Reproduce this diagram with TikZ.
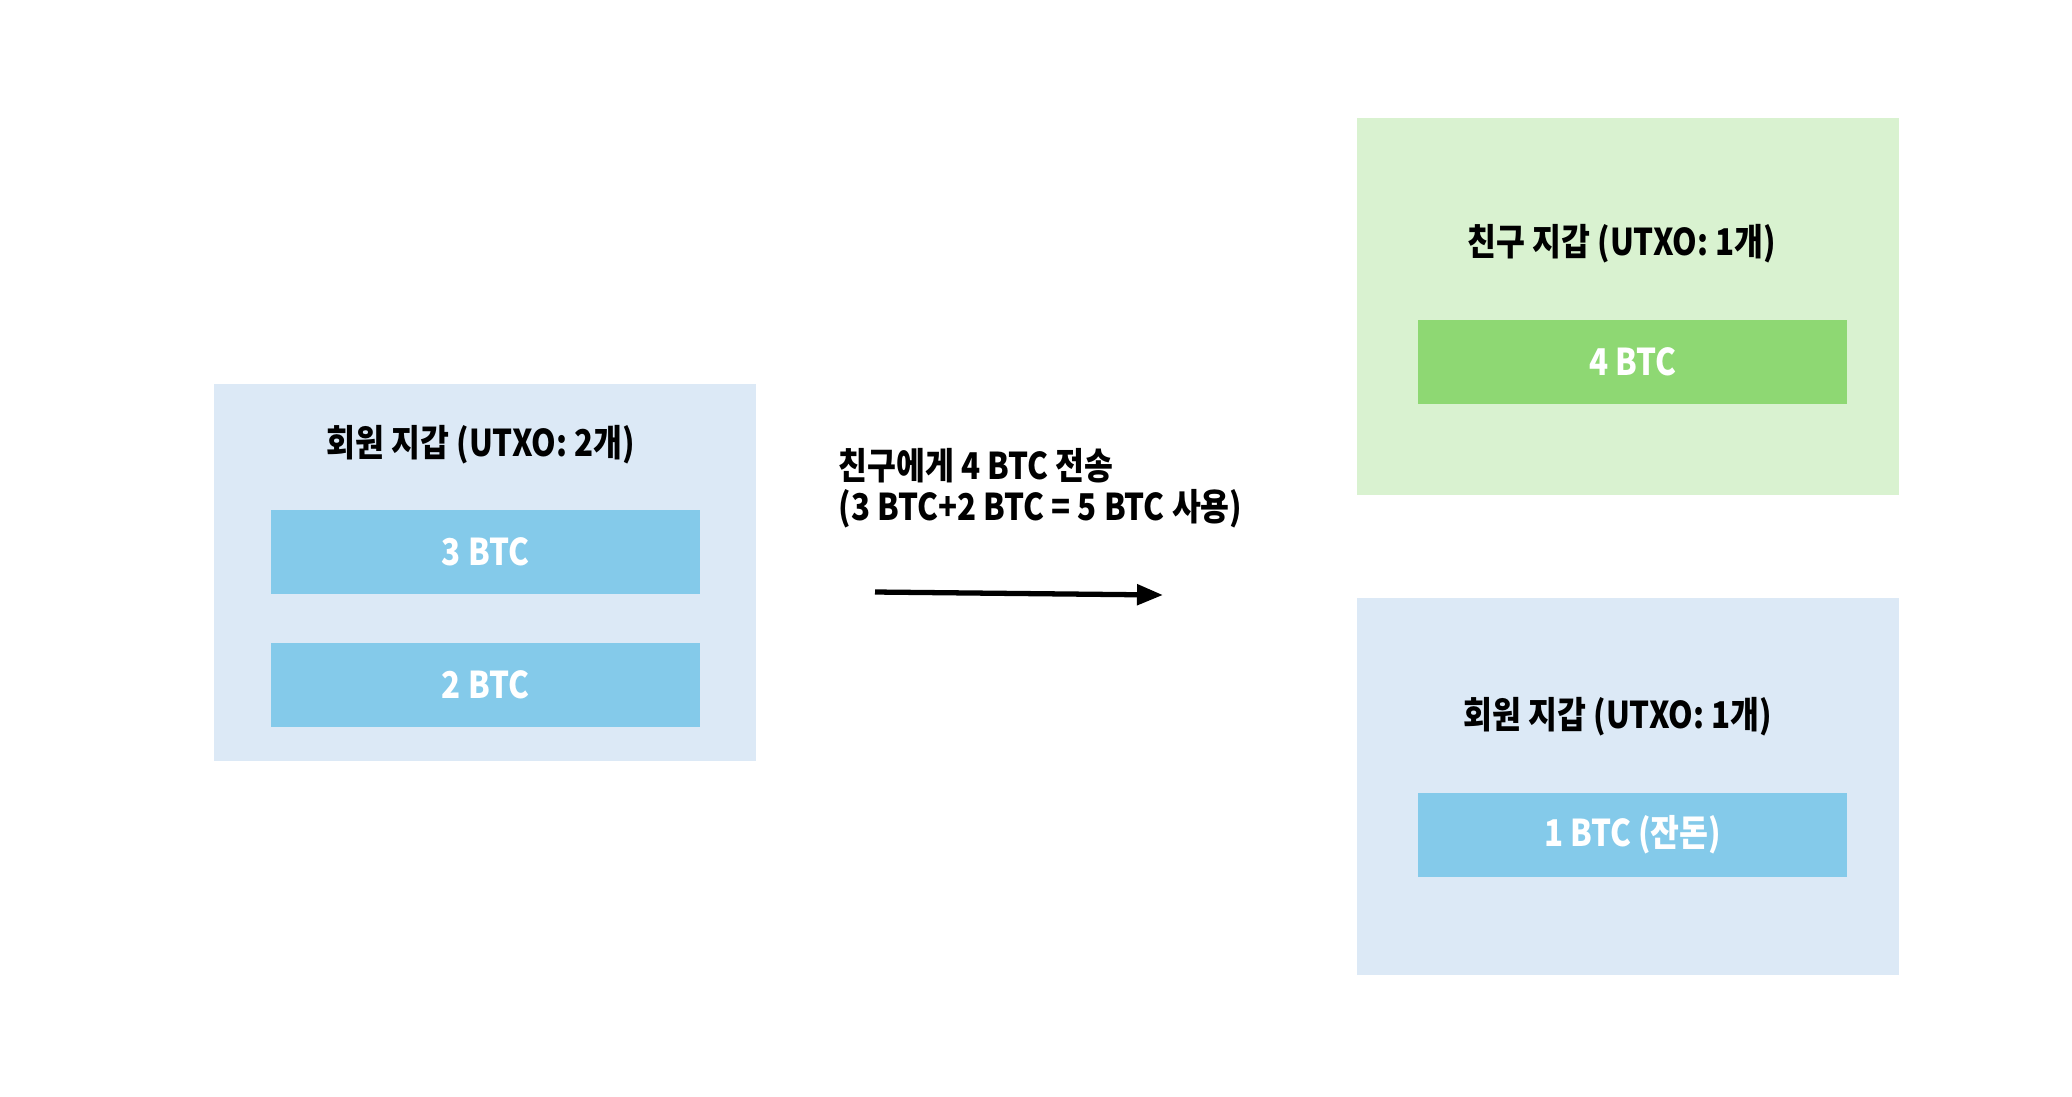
\documentclass[tikz,border=0pt]{standalone}
\usepackage{fontspec}
\setmainfont{Noto Sans CJK KR}[FakeStretch=0.85]
\usepackage{xcolor}
\usetikzlibrary{positioning, arrows.meta}

\definecolor{walletblue}{HTML}{DCE9F6}
\definecolor{coinblue}{HTML}{84CAEA}
\definecolor{walletgreen}{HTML}{D9F2D0}
\definecolor{coingreen}{HTML}{8ED873}

\begin{document}
\begin{tikzpicture}[
    font = \fontsize{10.5}{11.5}\selectfont\bfseries,
    wallet/.style = {
        rectangle, fill=walletblue, minimum width=5.42cm, minimum height=3.77cm
    },
    coin/.style = {
        rectangle, fill=coinblue, text=white, minimum width=4.29cm, minimum height=0.84cm
    },
    title/.style = {inner sep=0pt},
    send/.style = {-{Triangle[length=0.26cm, width=0.2cm]}, line width=1.5pt}
  ]
    \useasboundingbox (0,0) rectangle (20.72,-10.96);

    \node[wallet] (member) at (4.85,-5.725) {};  % 회원 지갑
    \node[title] (membertitle) at (4.81,-4.45) {회원 지갑 (UTXO: 2개)};
    \node[coin] (btc3) at (4.855,-5.515) {3 BTC};
    \node[coin, below=0.48cm of btc3] (btc2) {2 BTC};

    \node[wallet, fill=walletgreen] (friend) at (16.28,-3.06) {};  % 친구 지갑
    \node[title] (friendtitle) at (16.22,-2.44) {친구 지갑 (UTXO: 1개)};
    \node[coin, fill=coingreen] (btc4) at (16.325,-3.615) {4 BTC};

    \node[wallet] (member2) at (16.28,-7.86) {};  % 회원 지갑 (잔돈)
    \node[title] (member2title) at (16.18,-7.17) {회원 지갑 (UTXO: 1개)};
    \node[coin] (change) at (16.325,-8.35) {1 BTC (잔돈)};

    \node[title, anchor=west, align=left] (label) at (8.38,-4.88)
        {친구에게 4 BTC 전송\\(3 BTC+2 BTC = 5 BTC 사용)};
    \coordinate (from) at (8.75,-5.92);
    \coordinate (to) at (11.63,-5.95);
    \draw[send] (from) -- (to);
\end{tikzpicture}
\end{document}
